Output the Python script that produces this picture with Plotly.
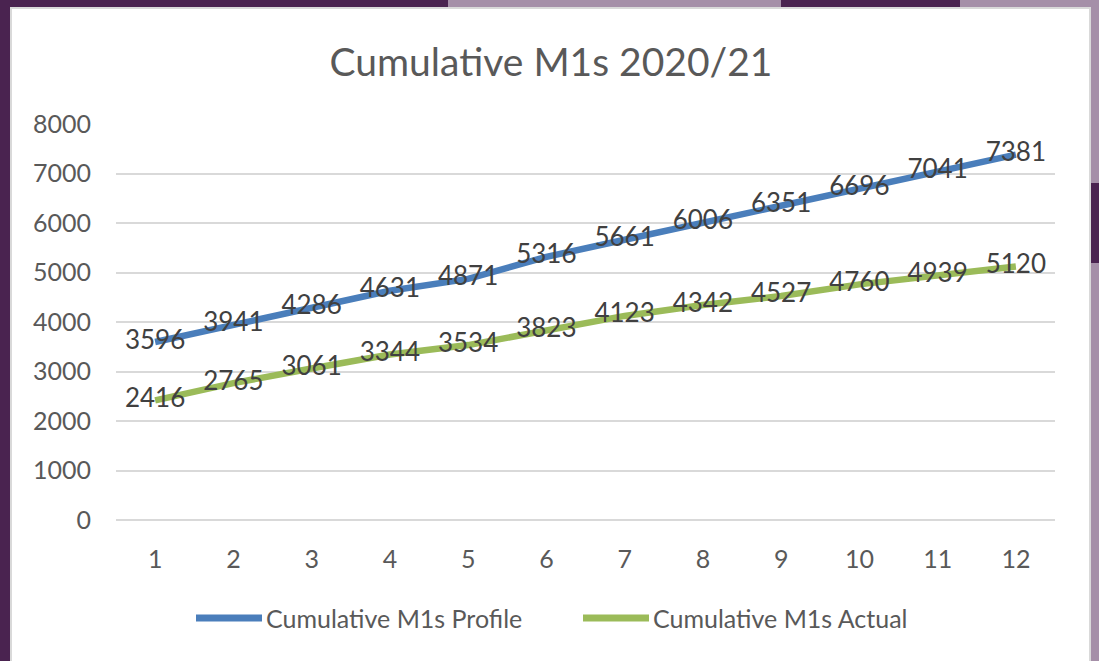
import plotly.graph_objects as go

# Data
months = [1, 2, 3, 4, 5, 6, 7, 8, 9, 10, 11, 12]
profile = [3596, 3941, 4286, 4631, 4871, 5316, 5661, 6006, 6351, 6696, 7041, 7381]
actual = [2416, 2765, 3061, 3344, 3534, 3823, 4123, 4342, 4527, 4760, 4939, 5120]
series_names = ["Cumulative M1s Profile", "Cumulative M1s Actual"]
series_colors = ["#4a7ebb", "#9bbb59"]

W, H = 1099, 661
L, R, T, B = 116, 1055, 124, 520  # plot area in pixels


def px(x):
    return (x - L) / (R - L)


def py(y):
    return (B - y) / (B - T)


FONT = "Lato, Carlito, Calibri, sans-serif"
DARK = "#4a2350"
LIGHT = "#a58fa8"

fig = go.Figure()
for vals, name, col in zip([profile, actual], series_names, series_colors):
    fig.add_trace(go.Scatter(
        x=months, y=vals, name=name,
        mode="lines+text", text=[str(v) for v in vals],
        textposition="middle center",
        textfont=dict(size=26, color="#404040", family=FONT),
        line=dict(color=col, width=6.5),
        showlegend=False,
    ))

# background decoration + white chart panel
shapes = [
    dict(type="rect", xref="paper", yref="paper", layer="below",
         x0=px(448), x1=px(781), y0=py(0), y1=py(10), fillcolor=LIGHT, line_width=0),
    dict(type="rect", xref="paper", yref="paper", layer="below",
         x0=px(960), x1=px(1099), y0=py(0), y1=py(10), fillcolor=LIGHT, line_width=0),
    dict(type="rect", xref="paper", yref="paper", layer="below",
         x0=px(1088), x1=px(1099), y0=py(0), y1=py(661), fillcolor=LIGHT, line_width=0),
    dict(type="rect", xref="paper", yref="paper", layer="below",
         x0=px(1088), x1=px(1099), y0=py(183), y1=py(263), fillcolor=DARK, line_width=0),
    dict(type="rect", xref="paper", yref="paper", layer="below",
         x0=px(11), x1=px(1090), y0=py(8), y1=py(664), fillcolor="white",
         line=dict(color="#d9d9d9", width=2)),
]

# legend drawn by hand so the line keys have Excel's long length
annotations = []
legend_x = [(196, 262), (583, 649)]
for (x0, x1), name, col in zip(legend_x, series_names, series_colors):
    shapes.append(dict(type="line", xref="paper", yref="paper",
                       x0=px(x0), x1=px(x1), y0=py(618), y1=py(618),
                       line=dict(color=col, width=7)))
    annotations.append(dict(text=name, xref="paper", yref="paper",
                            x=px(x1 + 2), y=py(618), xanchor="left", yanchor="middle",
                            showarrow=False,
                            font=dict(size=25, color="#595959", family=FONT)))

fig.update_layout(
    width=W, height=H,
    margin=dict(l=L, r=W - R, t=T, b=H - B, pad=0),
    paper_bgcolor=DARK,
    plot_bgcolor="white",
    shapes=shapes,
    annotations=annotations,
    title=dict(text="Cumulative M1s 2020/21", xref="container", x=551 / W,
               xanchor="center", yref="container", y=1 - 62 / H, yanchor="middle",
               font=dict(size=39, color="#595959", family=FONT)),
    font=dict(family=FONT, color="#595959"),
    xaxis=dict(
        range=[0.5, 12.5], tickmode="array", tickvals=months,
        ticktext=[str(m) for m in months], showgrid=False, zeroline=False,
        showline=False, ticks="", tickfont=dict(size=25, color="#595959"),
        fixedrange=True, ticklabelstandoff=22,
    ),
    yaxis=dict(
        range=[0, 8000], dtick=1000, showgrid=True, gridcolor="#d9d9d9",
        gridwidth=2, zeroline=True, zerolinecolor="#d9d9d9", zerolinewidth=2,
        showline=False, ticks="",
        tickfont=dict(size=25, color="#595959"), fixedrange=True,
        ticklabelstandoff=24,
    ),
    showlegend=False,
)

fig.write_html("out.html", config={"displayModeBar": False},
               post_script="document.body.style.margin='0';document.body.style.overflow='hidden';")
